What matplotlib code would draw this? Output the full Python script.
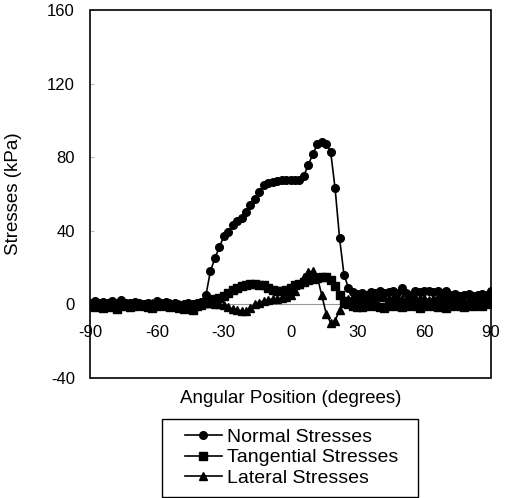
import matplotlib.pyplot as plt
from matplotlib.patches import Rectangle

plt.rcParams['font.family'] = ['Liberation Sans', 'DejaVu Sans']
plt.rcParams['axes.unicode_minus'] = False

# angular positions, every 2 degrees
angles = list(range(-90, 91, 2))

normal = [0.5, 2, 0.5, 1.5, 1, 2, 0.5, 2.5, 1, 0.5, 1.5, 0.5, 0, 0.5, 0, 2, 0.5, 1.5, 0, 0.5,
          -0.5, 0, 0.5, 0, 1, 1.5,
          5, 18, 25, 31, 37, 39.5, 43, 45.5, 47, 50,
          54, 57.5, 61, 65, 66, 66.5, 67, 67.5, 67.5, 67.5,
          67.5, 67.5, 70, 76, 81.5, 87, 88, 87, 83, 63,
          36, 16, 9, 6.5, 5.5,
          6, 5, 6.5, 6, 7, 6, 6.5, 7, 6, 9, 6, 5, 7, 6.5, 7.5, 7, 6.5, 7, 6, 7.5,
          5, 5.5, 4.5, 5, 5.5, 4.5, 5, 5.5, 5, 7]

tangential = [-1, -1.5, -0.5, -2, -1, -1.5, -2.5, -1, -0.5, -1.5, -1, -0.5, -1, -1.5, -2, -1,
              -0.5, -1, -1.5, -1, -2, -2.5, -1.5, -3, -1, -0.5,
              1, 2, 3, 3.5, 4.5, 6, 8, 9, 10, 10.5,
              11, 11, 10.5, 10.5, 9, 8, 7, 7.5, 8, 9,
              10.5, 11, 12, 13, 14, 14.5, 15, 15, 13.5, 10,
              5, 2, 0, -1, -1.5,
              -1.5, -1, -0.5, -1, -1.5, -2, -1, -0.5, -1, -1.5, -1, -0.5, -1, -2, -1,
              -0.5, -1, -1.5, -1, -2, -1, -0.5, -1, -1.5, -0.5, -1, -0.5, -1, 0, 0.5]

lateral = [0, 0.5, -0.5, 0, 1, 0, -0.5, 0.5, 0, -1, 0, 0.5, -0.5, 0, 0.5, 0, -0.5, 0, 0.5,
           -0.5, 0, -1, -0.5, 0, 0.5, 0,
           0.5, 0.5, 0, 0, -0.5, -1.5, -2.5, -3, -3.5, -3.5,
           -2, 0, 1, 2, 2.5, 3, 3, 3.5, 4, 5,
           7, 11, 15, 17.5, 18, 15, 5, -5, -10, -9,
           -3, 1, 3, 4, 4,
           3.5, 4, 3, 3.5, 4.5, 4, 3, 3.5, 4, 3, 2.5, 3.5, 4, 3, 3.5, 2.5, 3, 4, 3.5, 3,
           2.5, 3.5, 3, 2, 2.5, 3, 2, 2.5, 3, 2]

labels = ['Normal Stresses', 'Tangential Stresses', 'Lateral Stresses']

fig = plt.figure(figsize=(5.12, 4.98), dpi=100)
ax = fig.add_axes([0.176, 0.241, 0.783, 0.739])

ax.plot(angles, normal, color='black', lw=1.2, marker='o', ms=5.5, label=labels[0])
ax.plot(angles, tangential, color='black', lw=1.2, marker='s', ms=5.5, label=labels[1])
ax.plot(angles, lateral, color='black', lw=1.2, marker='^', ms=6, label=labels[2])

ax.set_xlim(-90, 90)
ax.set_ylim(-40, 160)
ax.set_xticks(range(-90, 91, 30))
ax.set_yticks(range(-40, 161, 40))

# excel style: category axis crosses at zero, plot area has its own border
for side in ['top', 'right', 'left']:
    ax.spines[side].set_visible(False)
ax.spines['bottom'].set_position(('data', 0))
ax.spines['bottom'].set_color('#999999')
ax.spines['bottom'].set_linewidth(0.8)
ax.spines['bottom'].set_zorder(1)
ax.add_patch(Rectangle((0, 0), 1, 1, transform=ax.transAxes, fill=False,
                       ec='black', lw=1.2, clip_on=False, zorder=5))

ax.tick_params(axis='x', length=0, pad=15, labelsize=12)
ax.tick_params(axis='y', length=3, direction='in', color='#bbbbbb', pad=11, labelsize=12)

ax.set_ylabel('Stresses (kPa)', fontsize=13.5)
ax.yaxis.set_label_coords(-0.17, 0.5)
ax.text(0.5, -0.055, 'Angular Position (degrees)', transform=ax.transAxes,
        ha='center', va='center', fontsize=13.5)

# legend box drawn separately so it can be wider than the entries
fig.add_artist(Rectangle((0.316, 0.002), 0.500, 0.157, transform=fig.transFigure,
                         fill=False, ec='black', lw=1))
fig.legend(loc='center left', bbox_to_anchor=(0.361, 0.081), fontsize=14,
           frameon=False, handlelength=1.9, labelspacing=0.15,
           borderpad=0, handletextpad=0.25, borderaxespad=0)

fig.savefig('out.png', dpi=100)
